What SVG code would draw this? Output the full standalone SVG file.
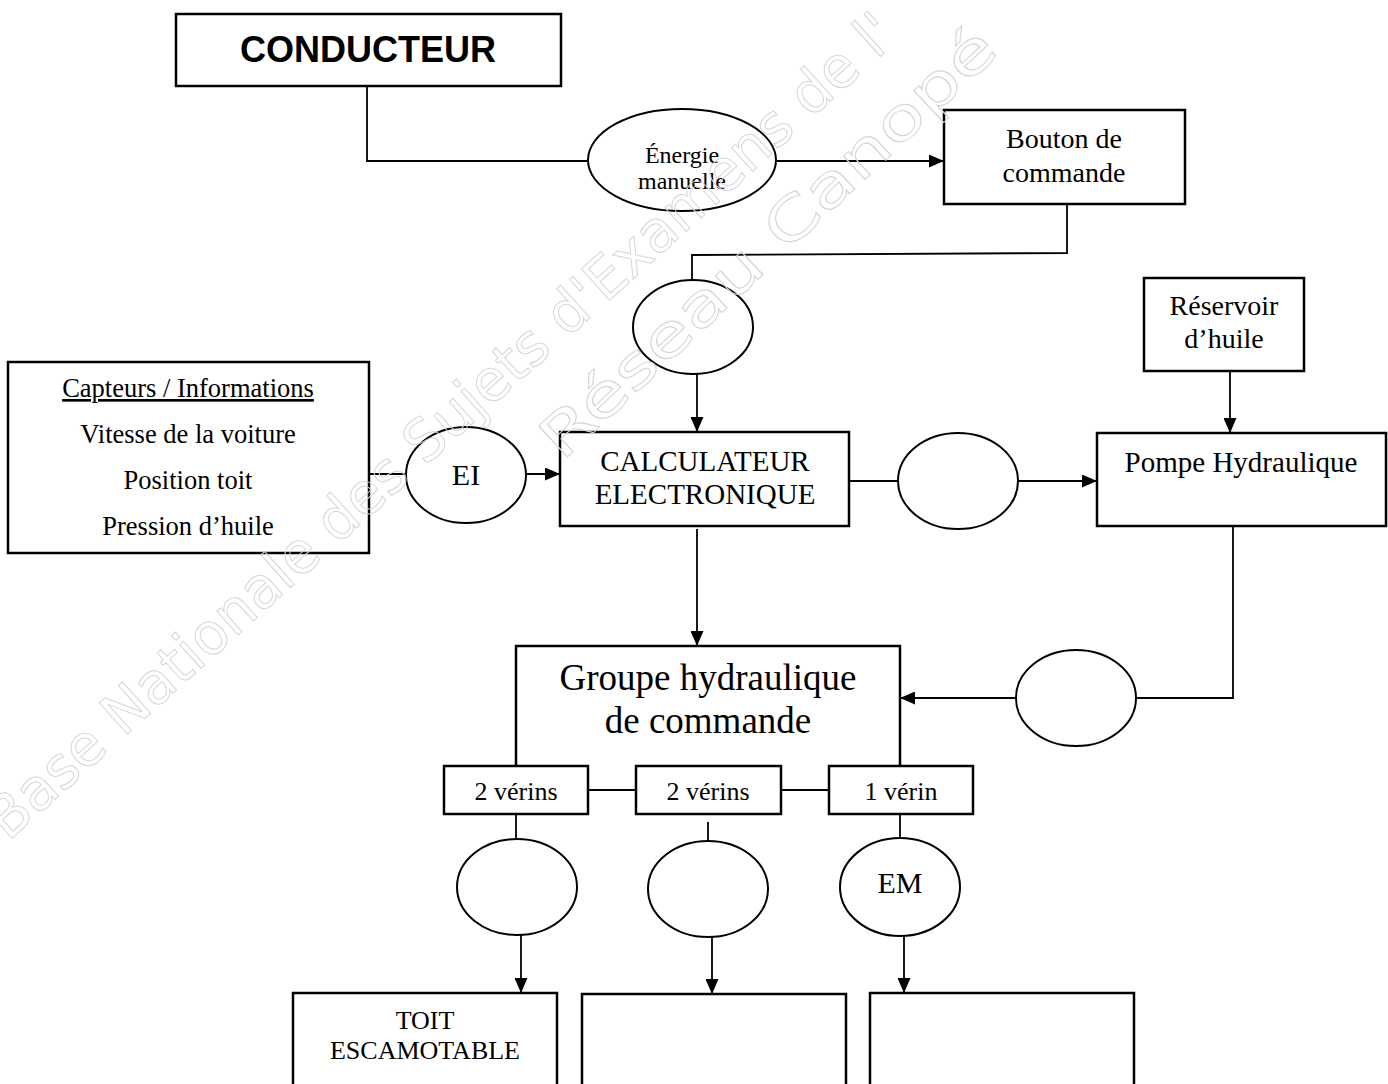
<svg xmlns="http://www.w3.org/2000/svg" width="1388" height="1084" viewBox="0 0 1388 1084">
<style>
.box{fill:#fff;stroke:#000;stroke-width:2.5}
.ell{fill:#fff;stroke:#000;stroke-width:2}
.ln{fill:none;stroke:#000;stroke-width:1.8}
.t{font-family:"Liberation Serif","Times New Roman",serif;fill:#000;text-anchor:middle}
.wm{font-family:"DejaVu Sans","Liberation Sans",sans-serif;font-size:58px;fill:none;stroke:#d6d6d6;stroke-width:1}
</style>
<defs>
<marker id="ah" markerUnits="userSpaceOnUse" markerWidth="15" markerHeight="13" refX="15" refY="6.5" orient="auto">
<path d="M0,0 L15,6.5 L0,13 z" fill="#000"/>
</marker>
</defs>
<rect width="1388" height="1084" fill="#fff"/>
<g id="connectors">
<path class="ln" d="M367,86 V161 H588"/>
<path class="ln" d="M776,161 H944" marker-end="url(#ah)"/>
<path class="ln" d="M1067,204 V253 L692,255 V280"/>
<path class="ln" d="M697,374 V432" marker-end="url(#ah)"/>
<path class="ln" d="M369,474 H406"/>
<path class="ln" d="M526,474 H560" marker-end="url(#ah)"/>
<path class="ln" d="M849,481 H898"/>
<path class="ln" d="M1018,481 H1097" marker-end="url(#ah)"/>
<path class="ln" d="M1230,371 V433" marker-end="url(#ah)"/>
<path class="ln" d="M697,529 V646" marker-end="url(#ah)"/>
<path class="ln" d="M1233,526 V698 H1136"/>
<path class="ln" d="M1016,698 H900" marker-end="url(#ah)"/>
<path class="ln" d="M588,790 H636"/>
<path class="ln" d="M781,790 H829"/>
<path class="ln" d="M516,814 V839"/>
<path class="ln" d="M708,822 V841"/>
<path class="ln" d="M900,814 V838"/>
<path class="ln" d="M521,935 V993" marker-end="url(#ah)"/>
<path class="ln" d="M712,937 V994" marker-end="url(#ah)"/>
<path class="ln" d="M904,936 V993" marker-end="url(#ah)"/>
</g>
<g id="conducteur">
<rect class="box" x="176" y="14" width="385" height="72"/>
<text x="368" y="62" style="font-family:'Liberation Sans',Arial,sans-serif;font-weight:bold;font-size:36px;text-anchor:middle">CONDUCTEUR</text>
</g>
<g id="energie-manuelle">
<ellipse class="ell" cx="682" cy="160" rx="94" ry="51"/>
<text class="t" x="682" y="163" font-size="24">Énergie</text>
<text class="t" x="682" y="189" font-size="24">manuelle</text>
</g>
<g id="bouton">
<rect class="box" x="944" y="110" width="241" height="94"/>
<text class="t" x="1064" y="148" font-size="28">Bouton de</text>
<text class="t" x="1064" y="182" font-size="28">commande</text>
</g>
<g id="circle-bouton">
<ellipse class="ell" cx="693" cy="327" rx="60" ry="47"/>
</g>
<g id="reservoir">
<rect class="box" x="1144" y="278" width="160" height="93"/>
<text class="t" x="1224" y="315" font-size="28">Réservoir</text>
<text class="t" x="1224" y="348" font-size="28">d’huile</text>
</g>
<g id="capteurs">
<rect class="box" x="8" y="362" width="361" height="191"/>
<text class="t" x="188" y="397" font-size="26.5" text-decoration="underline">Capteurs / Informations</text>
<text class="t" x="188" y="443" font-size="26.5">Vitesse de la voiture</text>
<text class="t" x="188" y="489" font-size="26.5">Position toit</text>
<text class="t" x="188" y="535" font-size="26.5">Pression d’huile</text>
</g>
<g id="ei">
<ellipse class="ell" cx="466" cy="475" rx="60" ry="48"/>
<text class="t" x="466" y="485" font-size="30">EI</text>
</g>
<g id="calculateur">
<rect class="box" x="560" y="432" width="289" height="94"/>
<text class="t" x="705" y="471" font-size="29">CALCULATEUR</text>
<text class="t" x="705" y="504" font-size="29">ELECTRONIQUE</text>
</g>
<g id="circle-calc">
<ellipse class="ell" cx="958" cy="481" rx="60" ry="48"/>
</g>
<g id="pompe">
<rect class="box" x="1097" y="433" width="289" height="93"/>
<text class="t" x="1241" y="472" font-size="29">Pompe Hydraulique</text>
</g>
<g id="circle-pompe">
<ellipse class="ell" cx="1076" cy="698" rx="60" ry="48"/>
</g>
<g id="groupe">
<path class="box" style="fill:none" d="M516,766 V646 H900 V766"/>
<text class="t" x="708" y="690" font-size="37">Groupe hydraulique</text>
<text class="t" x="708" y="733" font-size="37">de commande</text>
</g>
<g id="verins1">
<rect class="box" x="444" y="766" width="144" height="48"/>
<text class="t" x="516" y="800" font-size="26">2 vérins</text>
</g>
<g id="verins2">
<rect class="box" x="636" y="766" width="145" height="48"/>
<text class="t" x="708" y="800" font-size="26">2 vérins</text>
</g>
<g id="verin3">
<rect class="box" x="829" y="766" width="144" height="48"/>
<text class="t" x="901" y="800" font-size="26">1 vérin</text>
</g>
<g id="circle-v1">
<ellipse class="ell" cx="517" cy="887" rx="60" ry="48"/>
</g>
<g id="circle-v2">
<ellipse class="ell" cx="708" cy="889" rx="60" ry="48"/>
</g>
<g id="em">
<ellipse class="ell" cx="900" cy="887" rx="60" ry="49"/>
<text class="t" x="900" y="893" font-size="30">EM</text>
</g>
<g id="toit">
<rect class="box" x="293" y="993" width="264" height="120"/>
<text class="t" x="425" y="1029" font-size="26">TOIT</text>
<text class="t" x="425" y="1059" font-size="26">ESCAMOTABLE</text>
</g>
<g id="sortie2">
<rect class="box" x="582" y="994" width="264" height="120"/>
</g>
<g id="sortie3">
<rect class="box" x="870" y="993" width="264" height="120"/>
</g>
<g id="watermark">
<text class="wm" transform="translate(8,842) rotate(-42)" textLength="1200" lengthAdjust="spacingAndGlyphs">Base Nationale des Sujets d'Examens de l'</text>
<text class="wm" transform="translate(562,462) rotate(-43)" textLength="600" lengthAdjust="spacingAndGlyphs">Réseau Canopé</text>
</g>
</svg>
